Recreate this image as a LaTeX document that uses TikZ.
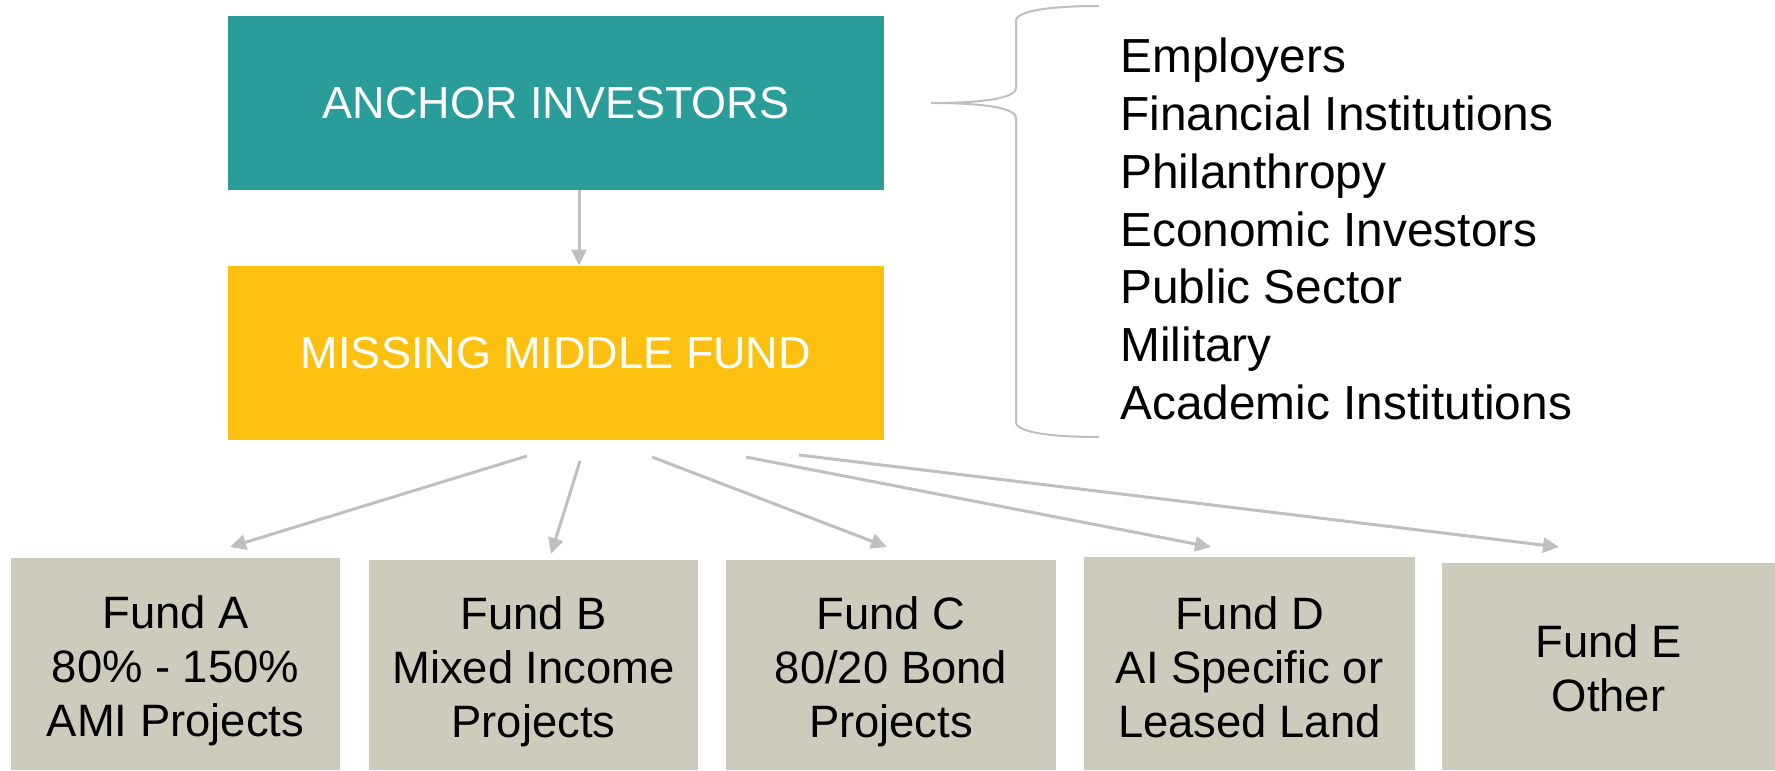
\documentclass[tikz,border=0pt]{standalone}
\usepackage{fontspec}
\setmainfont{Liberation Sans}
\usetikzlibrary{arrows.meta}
\definecolor{anchorteal}{RGB}{42,157,154}
\definecolor{fundyellow}{RGB}{252,193,16}
\definecolor{fundgray}{RGB}{205,203,188}
\definecolor{linegray}{RGB}{191,191,191}
\begin{document}
\begin{tikzpicture}[x=0.5pt,y=-0.5pt,
  topbox/.style={inner sep=0pt,minimum width=328pt,minimum height=87pt,
    text=white,font=\fontsize{22.5pt}{27pt}\selectfont},
  fundbox/.style={inner sep=0pt,fill=fundgray},
  fundtext/.style={align=center,inner sep=0pt,
    font=\fontsize{22.7pt}{27pt}\selectfont},
  flow/.style={draw=linegray,line width=1.5pt,-{Triangle[length=8pt,width=7.5pt]}},
  bracket/.style={draw=linegray,line width=1pt}]
\useasboundingbox (0,0) rectangle (1775,770);

% top two boxes
\node[topbox,fill=anchorteal] (anchor) at (556,103) {ANCHOR INVESTORS};
\node[topbox,fill=fundyellow] (mmf) at (556,353) {MISSING MIDDLE FUND};
\draw[flow] ([xshift=11.5pt]anchor.south) -- ([xshift=11.5pt]mmf.north);

% the five funds
\node[fundbox,minimum width=164.5pt,minimum height=106pt,
  label={[fundtext,yshift=-3.5pt]center:{Fund A\\80\% - 150\%\\AMI Projects}}]
  (fa) at (175.5,664) {};
\node[fundbox,minimum width=164.5pt,minimum height=105pt,
  label={[fundtext,yshift=-3.5pt]center:{Fund B\\Mixed Income\\Projects}}]
  (fb) at (533.5,665) {};
\node[fundbox,minimum width=165pt,minimum height=105pt,
  label={[fundtext,yshift=-3.5pt]center:{Fund C\\80/20 Bond\\Projects}}]
  (fc) at (891,665) {};
\node[fundbox,minimum width=165.5pt,minimum height=106.5pt,
  label={[fundtext,yshift=-2pt]center:{Fund D\\AI Specific or\\Leased Land}}]
  (fd) at (1249.5,663.5) {};
\node[fundbox,minimum width=166.5pt,minimum height=103.5pt,
  label={[fundtext,yshift=-1pt]center:{Fund E\\Other}}]
  (fe) at (1608.5,666.5) {};

% connector end points between the fund and the five funds
\coordinate (sa) at (527,456);  \coordinate (ea) at (230,547);
\coordinate (sb) at (580,461);  \coordinate (eb) at (551,554);
\coordinate (sc) at (652,457);  \coordinate (ec) at (887,547);
\coordinate (sd) at (746,457);  \coordinate (ed) at (1211,547);
\coordinate (se) at (799,455);  \coordinate (ee) at (1559,547);
\draw[flow] (sa) -- (ea);
\draw[flow] (sb) -- (eb);
\draw[flow] (sc) -- (ec);
\draw[flow] (sd) -- (ed);
\draw[flow] (se) -- (ee);

% curly bracket and investor list
\coordinate (tip) at (931,103);
\draw[bracket] (tip) .. controls (990,103) and (1016,97) .. (1016,88)
  -- (1016,21) .. controls (1016,10) and (1055,6) .. (1099,6);
\draw[bracket] (tip) .. controls (990,103) and (1016,109) .. (1016,118)
  -- (1016,422) .. controls (1016,433) and (1055,437) .. (1099,437);
\node[anchor=west,inner sep=0pt,align=left,
  font=\fontsize{23.9pt}{28.9pt}\selectfont] (list) at (1120,229)
  {Employers\\Financial Institutions\\Philanthropy\\Economic Investors\\Public Sector\\Military\\Academic Institutions};
\end{tikzpicture}
\end{document}
